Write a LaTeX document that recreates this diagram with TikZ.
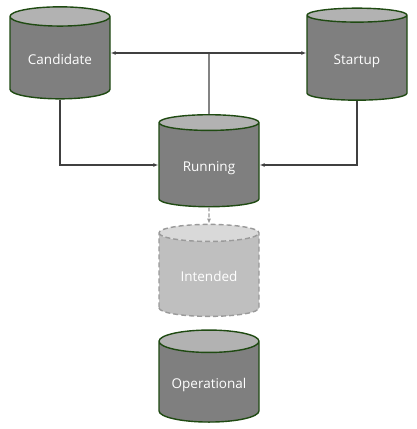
\documentclass[tikz,border=0pt]{standalone}
\usepackage{fontspec}
\setmainfont{Open Sans}
\usepackage{tikz}
\usetikzlibrary{positioning, arrows.meta, shapes.geometric, calc}
\definecolor{tankline}{HTML}{1F4A12}
\definecolor{tankbody}{HTML}{7F7F7F}
\definecolor{tanktop}{HTML}{B2B2B2}
\definecolor{ghostline}{HTML}{9A9A9A}
\definecolor{ghostbody}{HTML}{BFBFBF}
\definecolor{ghosttop}{HTML}{D9D9D9}
\definecolor{linkgray}{HTML}{404040}
\tikzset{
    tank/.style={cylinder, shape border rotate=90, draw=tankline, line width=1.4pt,
        cylinder uses custom fill, cylinder body fill=tankbody, cylinder end fill=tanktop,
        minimum width=100pt, minimum height=92pt, aspect=0.3, inner sep=0pt,
        text height=13.5pt, text depth=0pt,
        text=white, font=\fontsize{13.5}{16}\selectfont},
    ghost/.style={tank, draw=ghostline, dash pattern=on 5pt off 3pt, cylinder body fill=ghostbody, cylinder end fill=ghosttop},
    link/.style={-{Latex[length=5pt, width=4pt]}, line width=1.3pt, linkgray}
}

\begin{document}
\begin{tikzpicture}[x=1pt, y=-1pt]
\useasboundingbox (0,0) rectangle (417,429);

\node[tank] (cand) at (60,58) {Candidate};
\node[tank] (start) at (357,58) {Startup};
\node[tank] (run) at (209,165) {Running};
\node[ghost] (intend) at (209,275) {Intended};
\node[tank] (oper) at (209,382) {Operational};

\coordinate (split) at (209,53);
\draw[line width=1.3pt, linkgray] (run.north) -- (split);
\draw[link] (split) -- (split -| cand.east);
\draw[link] (split) -- (split -| start.west);
\draw[link] (cand.south) |- (run.west);
\draw[link] (start.south) |- (run.east);
\draw[link, ghostline, dash pattern=on 4pt off 2pt] (run.south) -- (intend.north);
\end{tikzpicture}
\end{document}
